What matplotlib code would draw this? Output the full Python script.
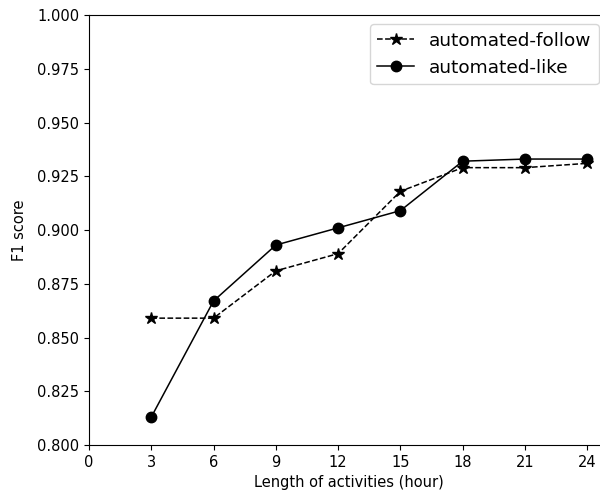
import matplotlib
matplotlib.use("Agg")
import matplotlib.pyplot as plt

hours = [3, 6, 9, 12, 15, 18, 21, 24]
follow = [0.859, 0.859, 0.881, 0.889, 0.918, 0.929, 0.929, 0.931]
like = [0.813, 0.867, 0.893, 0.901, 0.909, 0.932, 0.933, 0.933]
xticks = [0, 3, 6, 9, 12, 15, 18, 21, 24]
yticks = [0.800, 0.825, 0.850, 0.875, 0.900, 0.925, 0.950, 0.975, 1.000]

fig = plt.figure(figsize=(6.0, 4.96), dpi=100)
ax = fig.add_axes([89/600, 51/496, 519/600, 430/496])
ax.plot(hours, follow, 'k--', marker='*', markersize=9, linewidth=1.1,
        label='automated-follow')
ax.plot(hours, like, 'k-', marker='o', markersize=7.5, linewidth=1.1,
        label='automated-like')
ax.set_xlim(0, 25)
ax.set_ylim(0.8, 1.0)
ax.set_xticks(xticks)
ax.set_yticks(yticks)
ax.set_yticklabels([f"{v:.3f}" for v in yticks])
ax.tick_params(labelsize=10.5, width=0.8)
ax.set_xlabel('Length of activities (hour)', fontsize=10.5)
ax.set_ylabel('F1 score', fontsize=10.5, labelpad=7)
ax.legend(loc='upper right', fontsize=13.3)
fig.savefig('out.png', dpi=100)
